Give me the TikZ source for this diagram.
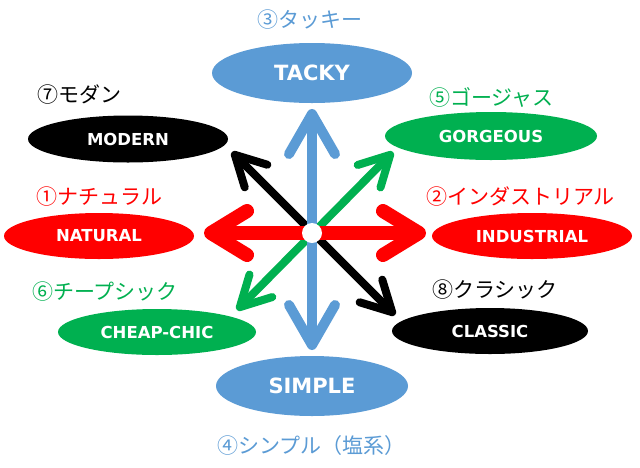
\documentclass[tikz,border=0pt]{standalone}
\usepackage{fontspec}
\setmainfont{DejaVu Sans}
\newfontfamily\jp{Noto Sans CJK JP}
\usetikzlibrary{arrows.meta,shapes.geometric}
\definecolor{cblue}{HTML}{5B9BD5}
\definecolor{cred}{HTML}{FF0000}
\definecolor{cgreen}{HTML}{00B050}
\tikzset{
  oval/.style={ellipse, inner sep=0pt, text=white, font=\fontsize{16.5}{16.5}\bfseries\selectfont},
  big/.style={font=\fontsize{21}{21}\bfseries\selectfont},
  jlab/.style={font=\jp\fontsize{21}{21}\selectfont, inner sep=0pt},
  bluearr/.style={cblue, line width=10pt, line cap=round,
    arrows={Straight Barb[length=40pt,width=46pt,round]-Straight Barb[length=40pt,width=46pt,round]}},
  redarr/.style={cred, line width=14pt, line cap=round,
    arrows={Straight Barb[length=36pt,width=44pt,round]-Straight Barb[length=36pt,width=44pt,round]}},
  greenarr/.style={cgreen, line width=8pt, line cap=round,
    arrows={Straight Barb[length=30pt,width=32pt,round]-Straight Barb[length=30pt,width=32pt,round]}},
  blackarr/.style={black, line width=8pt, line cap=round,
    arrows={Straight Barb[length=30pt,width=32pt,round]-Straight Barb[length=30pt,width=32pt,round]}},
}
\begin{document}
\begin{tikzpicture}[x=1pt,y=-1pt]
\useasboundingbox[fill=white] (0,0) rectangle (640,467);
% ovals
\node[oval, big, fill=cblue, minimum width=200pt, minimum height=60pt] (tacky) at (312,73) {TACKY};
\node[oval, big, fill=cblue, minimum width=192pt, minimum height=60pt] (simple) at (312,386) {SIMPLE};
\node[oval, fill=black, minimum width=200pt, minimum height=47pt] (modern) at (128,139) {MODERN};
\node[oval, fill=cred, minimum width=190pt, minimum height=46pt] (natural) at (99,236) {NATURAL};
\node[oval, fill=cgreen, minimum width=212pt, minimum height=48pt] (gorgeous) at (491,136) {GORGEOUS};
\node[oval, fill=cred, minimum width=200pt, minimum height=46pt] (industrial) at (532,236) {INDUSTRIAL};
\node[oval, fill=cgreen, minimum width=198pt, minimum height=46pt] (cheap) at (157,332) {CHEAP-CHIC};
\node[oval, fill=black, minimum width=196pt, minimum height=46pt] (classic) at (490,331) {CLASSIC};
% labels
\node[jlab, text=cblue] (l3) at (310,20) {③タッキー};
\node[jlab, text=black, anchor=west] (l7) at (37,95) {⑦モダン};
\node[jlab, text=cred, anchor=west] (l1) at (36,197) {①ナチュラル};
\node[jlab, text=cgreen, anchor=west] (l5) at (429,97) {⑤ゴージャス};
\node[jlab, text=cred, anchor=west] (l2) at (426,197) {②インダストリアル};
\node[jlab, text=cgreen, anchor=west] (l6) at (32,292) {⑥チープシック};
\node[jlab, text=black, anchor=west] (l8) at (432,290) {⑧クラシック};
\node[jlab, text=cblue, anchor=west] (l4) at (217,446) {④シンプル（塩系）};
% arrow tips
\coordinate (tU) at (312,109);
\coordinate (tD) at (312,350);
\coordinate (tL) at (204,233);
\coordinate (tR) at (426,233);
\coordinate (gUR) at (393,152);
\coordinate (gLL) at (237,310);
\coordinate (kUL) at (232,152);
\coordinate (kLR) at (395,315);
\draw[blackarr] (kUL) -- (kLR);
\draw[greenarr] (gLL) -- (gUR);
\draw[bluearr] (tU) -- (tD);
\draw[redarr] (tL) -- (tR);
\node[circle, fill=white, minimum size=20pt, inner sep=0pt] (c) at (312,233) {};
\end{tikzpicture}
\end{document}
